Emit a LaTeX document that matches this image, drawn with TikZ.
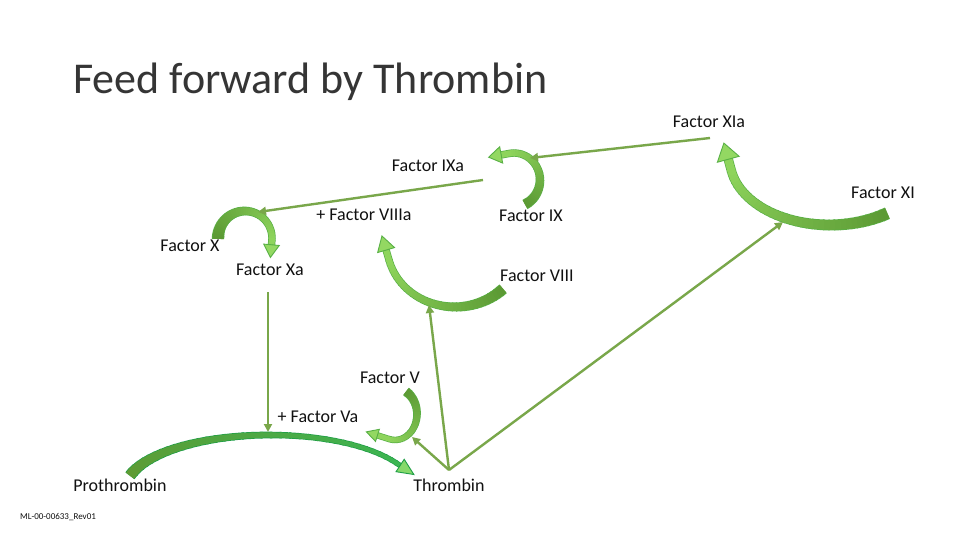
\documentclass[tikz,border=0pt]{standalone}
\usepackage{fontspec}
\setmainfont{Carlito}
\usetikzlibrary{arrows.meta}
\definecolor{lineg}{HTML}{79A74A}
\definecolor{txt}{HTML}{111111}
\definecolor{titlec}{HTML}{353535}
% arc colours (set per arrow)
\definecolor{arcdark}{HTML}{5C9A34}
\definecolor{arclight}{HTML}{8ED45C}
\definecolor{arcedge}{HTML}{58B045}
\definecolor{arctip}{HTML}{93D862}
\newcommand\hw{16}
\newcommand\hl{14}
% #1 cx, #2 cy, #3 rx, #4 ry, #5 t0, #6 t1, #7 w0, #8 w1, #9 straight length to tip
\newcommand\taperarc[9]{%
  \foreach \i in {0,...,35}{%
    \pgfmathsetmacro\ta{#5+(#6-#5)*\i/36}%
    \pgfmathsetmacro\tb{#5+(#6-#5)*(\i+1.25)/36}%
    \pgfmathsetmacro\ww{#8+(#7-#8)*(1-\i/35)^2+1.4}%
    \draw[line width=\ww pt, draw=arcedge] ([shift={(#1,#2)}]\ta:#3 and #4) arc[start angle=\ta, end angle=\tb, x radius=#3, y radius=#4];
  }%
  \pgfmathsetmacro\sg{(#6>#5)?1:-1}%
  \pgfmathsetmacro\tx{-\sg*#3*sin(#6)}%
  \pgfmathsetmacro\ty{\sg*#4*cos(#6)}%
  \pgfmathsetmacro\nn{sqrt(\tx*\tx+\ty*\ty)}%
  \pgfmathsetmacro\dx{#9*\tx/\nn}%
  \pgfmathsetmacro\dy{#9*\ty/\nn}%
  \pgfmathsetmacro\we{#8+1.4}%
  \pgfmathsetmacro\sh{\hl-1}%
  \draw[line width=\we pt, draw=arcedge, shorten >=\sh pt] ([shift={(#1,#2)}]#6:#3 and #4) -- ++(\dx,\dy);
  \foreach \i in {0,...,35}{%
    \pgfmathsetmacro\ta{#5+(#6-#5)*\i/36}%
    \pgfmathsetmacro\tb{#5+(#6-#5)*(\i+1.25)/36}%
    \pgfmathsetmacro\ww{#8+(#7-#8)*(1-\i/35)^2}%
    \pgfmathtruncatemacro\pp{100*\i/35}%
    \draw[line width=\ww pt, draw=arclight!\pp!arcdark] ([shift={(#1,#2)}]\ta:#3 and #4) arc[start angle=\ta, end angle=\tb, x radius=#3, y radius=#4];
  }%
  \draw[line width=#8pt, draw=arclight, -{Triangle[width=\hw pt, length=\hl pt, line width=0.9pt, color=arcedge, fill=arctip]}] ([shift={(#1,#2)}]#6:#3 and #4) -- ++(\dx,\dy);
}
\begin{document}
\begin{tikzpicture}[x=1pt,y=-1pt,
  lbl/.style={inner sep=0pt, font=\fontsize{18}{20}\selectfont, text=txt},
  conn/.style={draw=lineg, line width=2.4pt, -{Triangle[width=8pt,length=8pt]}}]
\fill[white] (0,0) rectangle (960,540);
\useasboundingbox (0,0) rectangle (960,540);

% title
\node[anchor=base west, inner sep=0pt, font=\fontsize{44}{48}\selectfont, text=titlec] (title) at (73,94) {Feed forward by Thrombin};

% labels
\node[lbl] (fxia) at (709,122) {Factor XIa};
\node[lbl] (fixa) at (428,166) {Factor IXa};
\node[lbl] (fxi) at (883,193) {Factor XI};
\node[lbl] (fviiia) at (364,215) {+ Factor VIIIa};
\node[lbl] (fix) at (531,216) {Factor IX};
\node[lbl] (fx) at (190,246) {Factor X};
\node[lbl] (fxa) at (270,270) {Factor Xa};
\node[lbl] (fviii) at (537,276) {Factor VIII};
\node[lbl] (fv) at (390,378) {Factor V};
\node[lbl] (fva) at (318,417) {+ Factor Va};
\node[lbl] (proth) at (120,485) {Prothrombin};
\node[lbl] (thr) at (449,485) {Thrombin};
\node[inner sep=0pt, font=\fontsize{9}{10}\selectfont, text=txt] (code) at (58,517) {ML-00-00633\_Rev01};

% curved block arrows
% IX -> IXa
\renewcommand\hw{18}\renewcommand\hl{14}
\taperarc{514}{180}{26}{27}{65}{-100}{9}{6}{22}
% XI -> XIa
\renewcommand\hw{24}\renewcommand\hl{18}
\taperarc{830}{160}{100}{65}{55}{170}{11}{8}{30}
% X -> Xa
\renewcommand\hw{17}\renewcommand\hl{14}
\taperarc{245}{238}{27}{27}{178}{365}{11}{6}{18}
% VIII -> VIIIa
\renewcommand\hw{19}\renewcommand\hl{16}
\taperarc{455}{245}{68}{62}{45}{165}{10}{6}{27}
% V -> Va
\renewcommand\hw{14}\renewcommand\hl{13}
\taperarc{395}{414}{22}{26}{-60}{105}{8}{5}{25}
% Prothrombin -> Thrombin
\definecolor{arcdark}{HTML}{5E9B34}
\definecolor{arclight}{HTML}{3CB552}
\definecolor{arcedge}{HTML}{1E9E46}
\definecolor{arctip}{HTML}{86D96A}
\renewcommand\hw{16}\renewcommand\hl{18}
\taperarc{270}{490}{145}{55}{195}{330}{10}{4}{23}

% connector end points
\coordinate (s1) at (710,138);
\coordinate (e1) at (530,158);
\coordinate (s2) at (483,180);
\coordinate (e2) at (258,212);
\coordinate (s3) at (268,292);
\coordinate (e3) at (268,432);
\coordinate (t0) at (449,470);
\coordinate (e4) at (429,305);
\coordinate (e5) at (412,437);
\coordinate (e6) at (783,222);

\draw[conn] (s1) -- (e1);
\draw[conn] (s2) -- (e2);
\draw[conn] (s3) -- (e3);
\draw[conn] (t0) -- (e4);
\draw[conn] (t0) -- (e5);
\draw[conn] (t0) -- (e6);
\end{tikzpicture}
\end{document}
